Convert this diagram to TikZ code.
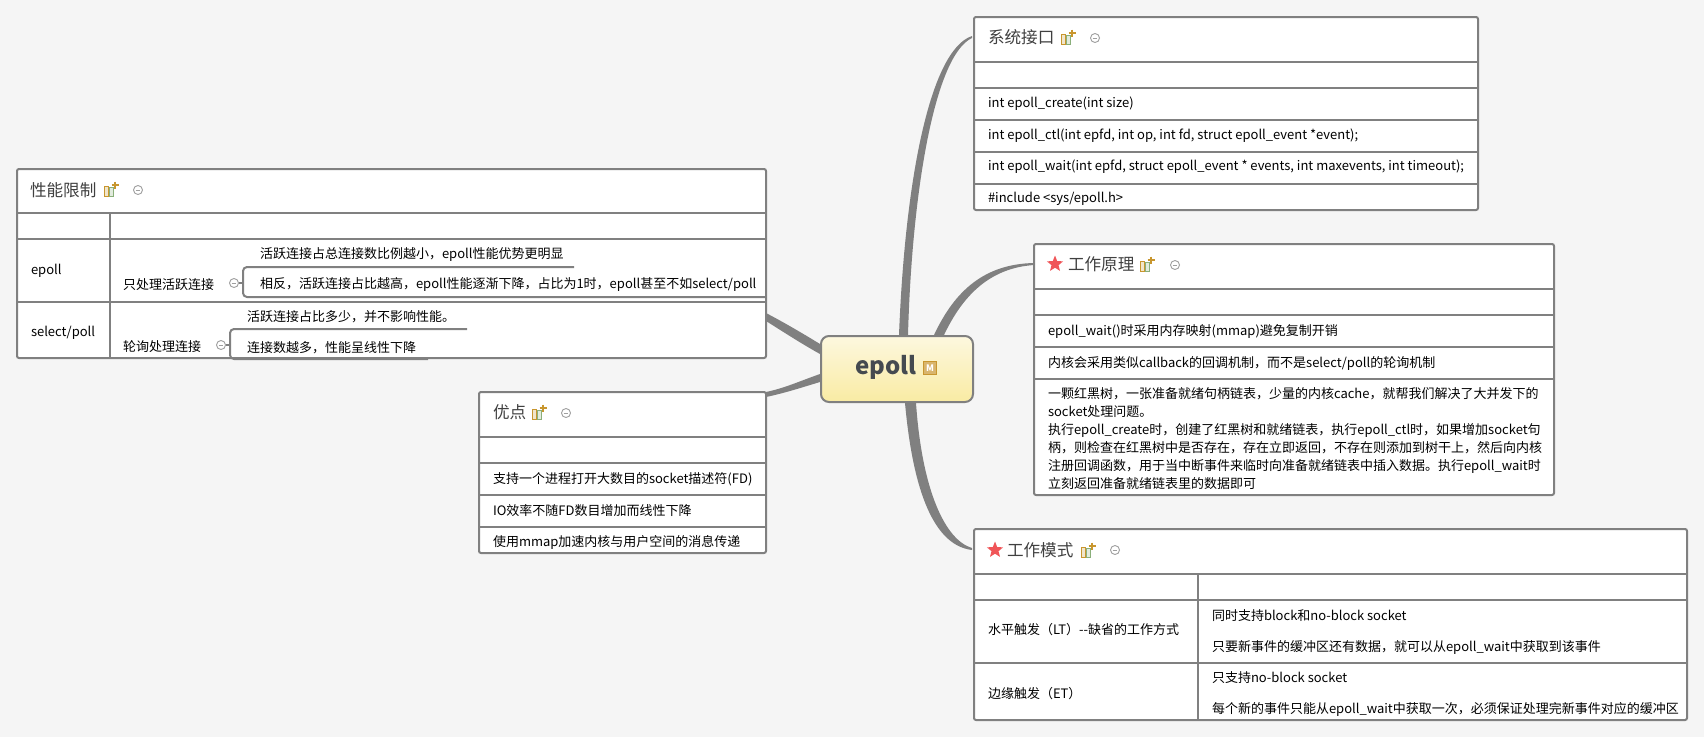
\documentclass[tikz,border=0pt]{standalone}
\usepackage{fontspec}
\setmainfont{Noto Sans CJK SC}
\usetikzlibrary{shapes.geometric,backgrounds}
\definecolor{edgegray}{HTML}{808080}
\definecolor{pagebg}{HTML}{F5F5F5}
\definecolor{titletxt}{HTML}{404040}
\definecolor{iconor}{HTML}{C8962E}
\definecolor{icongr}{HTML}{8AAF7A}
\definecolor{startred}{HTML}{F05558}
\definecolor{roottop}{HTML}{FDF8DF}
\definecolor{rootbot}{HTML}{F9EBA3}
\definecolor{roottxt}{HTML}{454A50}
\tikzset{
  topicbox/.style={draw=edgegray,line width=2pt,fill=white,rounded corners=2pt,anchor=north west,inner sep=0pt,outer sep=0pt},
  rule/.style={draw=edgegray,line width=2pt},
  bracket/.style={draw=edgegray,line width=2pt,rounded corners=4pt},
  link/.style={fill=edgegray,draw=none},
  cell/.style={anchor=west,inner sep=0pt,outer sep=0pt,text=black,yshift=-1pt,font=\fontsize{13}{15}\selectfont},
  titletext/.style={anchor=west,inner sep=0pt,outer sep=0pt,text=titletxt,font=\fontsize{16.6}{20}\selectfont},
  minusmark/.style={draw=gray!75,line width=0.9pt},
}
\newcommand{\noteicon}[2]{%
  \begin{scope}[shift={(#1,#2)}]
    \draw[iconor,fill=iconor!25,line width=1pt] (0.5,-4) rectangle (4,6);
    \draw[icongr,fill=icongr!25,line width=1pt] (5.5,-3) rectangle (9,6);
    \draw[iconor,line width=2pt] (7.5,-5) -- (14.5,-5) (11,-8.5) -- (11,-1.5);
  \end{scope}}
\newcommand{\minusmark}[2]{%
  \draw[minusmark] (#1,#2) circle (4.5pt);
  \draw[minusmark] (#1-2.3,#2) -- (#1+2.3,#2);}
\begin{document}
\begin{tikzpicture}[x=1pt,y=-1pt]
\useasboundingbox (0,0) rectangle (1704,737);

% topics
\node[topicbox,minimum width=749pt,minimum height=189pt] (perf) at (17,169) {};
\node[topicbox,minimum width=504pt,minimum height=193pt] (sys) at (974,17) {};
\node[topicbox,minimum width=520pt,minimum height=251pt] (work) at (1034,244) {};
\node[topicbox,minimum width=713pt,minimum height=191pt] (mode) at (974,529) {};
\node[topicbox,minimum width=287pt,minimum height=161pt] (good) at (479,392) {};
\node[draw=edgegray,line width=2pt,rounded corners=8pt,top color=roottop,bottom color=rootbot,anchor=north west,minimum width=152pt,minimum height=66pt,inner sep=0pt] (root) at (820,335) {};
\node[anchor=west,inner sep=0pt,text=roottxt,font=\fontsize{24}{28}\selectfont\bfseries] (roottext) at (855,367) {epoll};
\node[draw=iconor,fill=iconor!70,line width=1pt,minimum size=13pt,inner sep=0pt,text=white,font=\fontsize{9}{9}\selectfont\bfseries] (mark) at (930,368) {M};

% links
\begin{scope}[on background layer]
  \fill[pagebg] (0,0) rectangle (1704,737);
  \draw[link] ([yshift=-9pt]root.north west) .. controls (802,333) and (785,323) .. ([yshift=-144pt]perf.north east)
     -- ([yshift=-152pt]perf.north east) .. controls (785,333) and (802,344) .. ([yshift=-19pt]root.north west) -- cycle;
  \draw[link] ([yshift=-39pt]root.north west) .. controls (800,381) and (785,388) .. (good.north east)
     -- ([yshift=-5pt]good.north east) .. controls (785,393) and (800,388) .. ([yshift=-47pt]root.north west) -- cycle;
  \draw[link] ([xshift=79pt]root.north west) .. controls (905,180) and (930,50) .. ([xshift=-2pt,yshift=-19pt]sys.north west)
     -- ([xshift=-2pt,yshift=-21pt]sys.north west) .. controls (935,55) and (912,190) .. ([xshift=88pt]root.north west) -- cycle;
  \draw[link] ([xshift=114pt]root.north west) .. controls (955,290) and (985,264) .. ([yshift=-19pt]work.north west)
     -- ([yshift=-21pt]work.north west) .. controls (990,268) and (963,295) .. ([xshift=124pt]root.north west) -- cycle;
  \draw[link] ([xshift=85pt]root.south west) .. controls (912,480) and (930,545) .. ([xshift=-2pt,yshift=-21pt]mode.north west)
     -- ([xshift=-2pt,yshift=-19pt]mode.north west) .. controls (945,540) and (922,490) .. ([xshift=96pt]root.south west) -- cycle;
\end{scope}

% perf table
\draw[rule] (17,213) -- (766,213) (17,239) -- (766,239) (17,302) -- (766,302) (109.5,213) -- (109.5,358);
\node[titletext] (perft) at (30,190) {性能限制};
\noteicon{104}{190}
\minusmark{138}{190}
\node[cell] (perfa) at (31,270) {epoll};
\node[cell] (perfb) at (31,332) {select/poll};
\node[cell] (perfa1) at (123,284) {只处理活跃连接};
\minusmark{234}{283}
\node[cell] (perfa11) at (260,254) {活跃连接占总连接数比例越小，epoll性能优势更明显};
\node[cell] (perfa12) at (260,284) {相反，活跃连接占比越高，epoll性能逐渐下降，占比为1时，epoll甚至不如select/poll};
\node[cell] (perfb1) at (123,346) {轮询处理连接};
\minusmark{221}{345}
\node[cell] (perfb11) at (247,316) {活跃连接占比多少，并不影响性能。};
\node[cell] (perfb12) at (247,347) {连接数越多，性能呈线性下降};
\draw[bracket] (574,267) -- (243,267) -- (243,297) -- (765,297);
\draw[bracket] (467,329) -- (230,329) -- (230,359) -- (428,359);
\draw[rule] (239,283) -- (243,283) (226,345) -- (230,345);

% system table
\draw[rule] (974,62) -- (1478,62) (974,88) -- (1478,88) (974,120) -- (1478,120) (974,152) -- (1478,152) (974,184) -- (1478,184);
\node[titletext] (syst) at (988,37) {系统接口};
\noteicon{1061}{38}
\minusmark{1095}{38}
\node[cell] (sys1) at (988,103) {int epoll\_create(int size)};
\node[cell] (sys2) at (988,135) {int epoll\_ctl(int epfd, int op, int fd, struct epoll\_event *event);};
\node[cell] (sys3) at (988,166) {int epoll\_wait(int epfd, struct epoll\_event * events, int maxevents, int timeout);};
\node[cell] (sys4) at (988,198) {\#include <sys/epoll.h>};

% work table
\draw[rule] (1034,289) -- (1554,289) (1034,315) -- (1554,315) (1034,347) -- (1554,347) (1034,379) -- (1554,379);
\node[star,star points=5,star point ratio=2.3,fill=startred,minimum size=17pt,inner sep=0pt] (workstar) at (1055,264) {};
\node[titletext] (workt) at (1068,264) {工作原理};
\noteicon{1140}{265}
\minusmark{1175}{265}
\node[cell] (work1) at (1048,330) {epoll\_wait()时采用内存映射(mmap)避免复制开销};
\node[cell] (work2) at (1048,362) {内核会采用类似callback的回调机制，而不是select/poll的轮询机制};
\node[cell] (work3a) at (1048,393) {一颗红黑树，一张准备就绪句柄链表，少量的内核cache，就帮我们解决了大并发下的};
\node[cell] (work3b) at (1048,411) {socket处理问题。};
\node[cell] (work3c) at (1048,429) {执行epoll\_create时，创建了红黑树和就绪链表，执行epoll\_ctl时，如果增加socket句};
\node[cell] (work3d) at (1048,447) {柄，则检查在红黑树中是否存在，存在立即返回，不存在则添加到树干上，然后向内核};
\node[cell] (work3e) at (1048,465) {注册回调函数，用于当中断事件来临时向准备就绪链表中插入数据。执行epoll\_wait时};
\node[cell] (work3f) at (1048,483) {立刻返回准备就绪链表里的数据即可};

% mode table
\draw[rule] (974,574) -- (1687,574) (974,600) -- (1687,600) (974,663) -- (1687,663) (1198,574) -- (1198,720);
\node[star,star points=5,star point ratio=2.3,fill=startred,minimum size=17pt,inner sep=0pt] (modestar) at (995,550) {};
\node[titletext] (modet) at (1007,550) {工作模式};
\noteicon{1081}{551}
\minusmark{1115}{550}
\node[cell] (modea) at (988,629) {水平触发（LT）-{}-缺省的工作方式};
\node[cell] (modeb) at (988,693) {边缘触发（ET）};
\node[cell] (modea1) at (1212,615) {同时支持block和no-block socket};
\node[cell] (modea2) at (1212,646) {只要新事件的缓冲区还有数据，就可以从epoll\_wait中获取到该事件};
\node[cell] (modeb1) at (1212,677) {只支持no-block socket};
\node[cell] (modeb2) at (1212,708) {每个新的事件只能从epoll\_wait中获取一次，必须保证处理完新事件对应的缓冲区};

% good table
\draw[rule] (479,437) -- (766,437) (479,463) -- (766,463) (479,495) -- (766,495) (479,527) -- (766,527);
\node[titletext] (goodt) at (493,412) {优点};
\noteicon{532}{413}
\minusmark{566}{413}
\node[cell] (good1) at (493,478) {支持一个进程打开大数目的socket描述符(FD)};
\node[cell] (good2) at (493,510) {IO效率不随FD数目增加而线性下降};
\node[cell] (good3) at (493,541) {使用mmap加速内核与用户空间的消息传递};
\end{tikzpicture}
\end{document}
